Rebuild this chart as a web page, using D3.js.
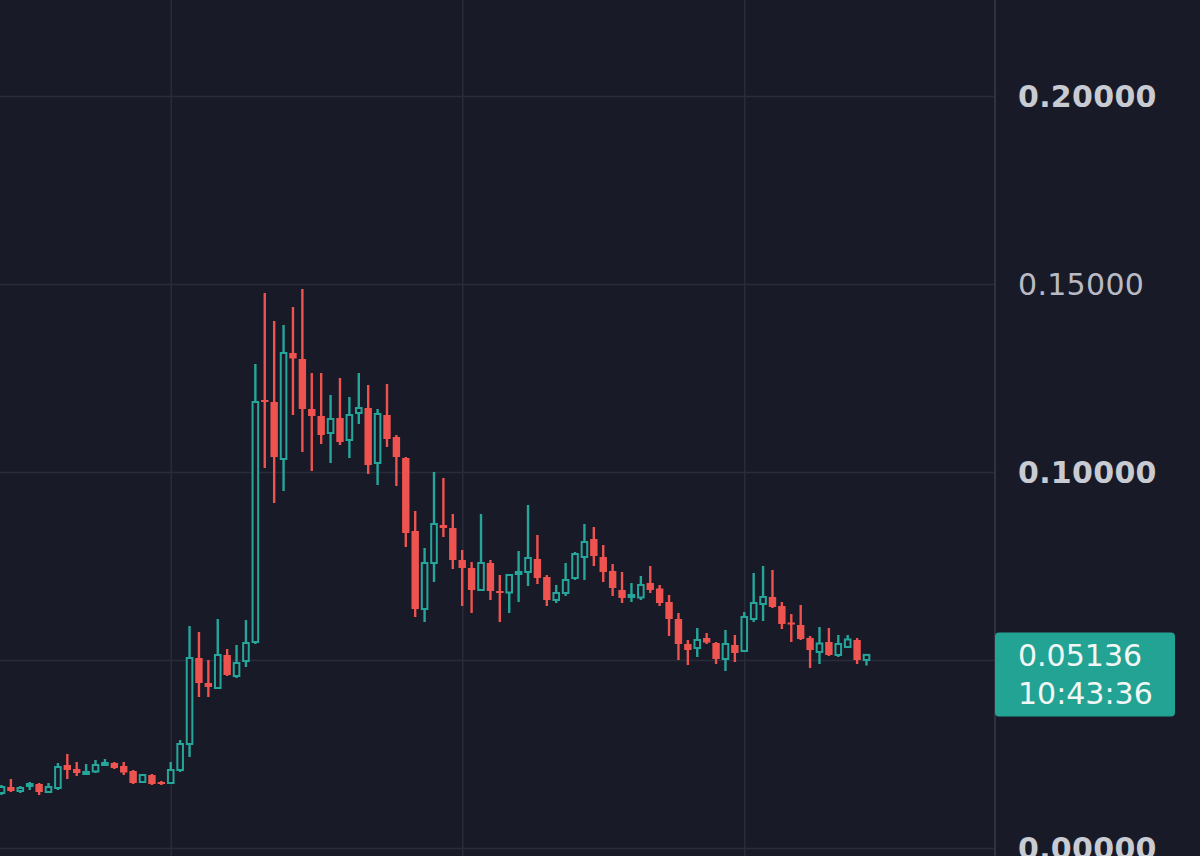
<!DOCTYPE html>
<html>
<head>
<meta charset="utf-8">
<script src="https://cdn.jsdelivr.net/npm/d3@7"></script>
<style>
html, body { margin: 0; padding: 0; background: #191a27; overflow: hidden; }
svg { display: block; }
</style>
</head>
<body>
<svg id="chart" width="1200" height="856"></svg>
<script>
// Daily candles, oldest first
var opens = [
	0.01463, 0.01622, 0.01516, 0.01649, 0.01702, 0.01489, 0.01596, 0.02207, 0.02101, 0.01995,
	0.02035, 0.02207, 0.02261, 0.02181, 0.02048, 0.01755, 0.01941, 0.01755, 0.01729, 0.02074,
	0.02766, 0.05053, 0.04388, 0.04255, 0.05133, 0.04574, 0.04973, 0.05479, 0.11915, 0.11862,
	0.10346, 0.13165, 0.13005, 0.11676, 0.11489, 0.11037, 0.11436, 0.10851, 0.11569, 0.11702,
	0.10239, 0.11516, 0.10931, 0.10372, 0.08431, 0.06356, 0.07580, 0.08590, 0.08511, 0.07660,
	0.07447, 0.06862, 0.07580, 0.06835, 0.06795, 0.07287, 0.07340, 0.07686, 0.07207, 0.06596,
	0.06782, 0.07181, 0.07739, 0.08218, 0.07739, 0.07367, 0.06862, 0.06676, 0.06662, 0.07048,
	0.06902, 0.06543, 0.06090, 0.05426, 0.05319, 0.05585, 0.05452, 0.05027, 0.05399, 0.05239,
	0.06090, 0.06489, 0.06676, 0.06436, 0.05997, 0.05931, 0.05585, 0.05213, 0.05479, 0.05133,
	0.05346, 0.05532, 0.05000
];
var highs = [
	0.01676, 0.01835, 0.01649, 0.01755, 0.01729, 0.01729, 0.02261, 0.02500, 0.02287, 0.02234,
	0.02340, 0.02367, 0.02287, 0.02287, 0.02074, 0.01968, 0.01968, 0.01782, 0.02287, 0.02872,
	0.05904, 0.05745, 0.05000, 0.06090, 0.05293, 0.05399, 0.06064, 0.12872, 0.14761, 0.14016,
	0.13910, 0.14388, 0.14867, 0.12633, 0.12633, 0.12048, 0.12500, 0.11995, 0.12633, 0.12314,
	0.11676, 0.12340, 0.10984, 0.10399, 0.08963, 0.07979, 0.10000, 0.09840, 0.08883, 0.07926,
	0.07606, 0.08883, 0.07660, 0.07261, 0.07287, 0.07899, 0.09122, 0.08324, 0.07261, 0.06995,
	0.07580, 0.07872, 0.08617, 0.08537, 0.08059, 0.07553, 0.07340, 0.07048, 0.07234, 0.07500,
	0.06995, 0.06729, 0.06250, 0.05532, 0.05851, 0.05718, 0.05479, 0.05798, 0.05665, 0.06277,
	0.07314, 0.07500, 0.07394, 0.06543, 0.06223, 0.06463, 0.05638, 0.05878, 0.05851, 0.05665,
	0.05665, 0.05585, 0.05160
];
var lows = [
	0.01410, 0.01489, 0.01463, 0.01543, 0.01410, 0.01463, 0.01543, 0.01835, 0.01915, 0.01941,
	0.01995, 0.02181, 0.02101, 0.01941, 0.01702, 0.01729, 0.01676, 0.01676, 0.01702, 0.02021,
	0.02420, 0.04016, 0.04016, 0.04229, 0.04574, 0.04521, 0.04814, 0.05426, 0.10106, 0.09176,
	0.09495, 0.11516, 0.10532, 0.10027, 0.10745, 0.10239, 0.10718, 0.10372, 0.11277, 0.09947,
	0.09654, 0.10665, 0.09628, 0.08005, 0.06144, 0.06011, 0.07074, 0.08271, 0.07420, 0.06436,
	0.06250, 0.06835, 0.06596, 0.06011, 0.06250, 0.06543, 0.06968, 0.07021, 0.06436, 0.06516,
	0.06702, 0.07128, 0.07128, 0.07500, 0.07074, 0.06702, 0.06516, 0.06543, 0.06596, 0.06782,
	0.06436, 0.05638, 0.05000, 0.04867, 0.05080, 0.05426, 0.04894, 0.04707, 0.04947, 0.05213,
	0.06011, 0.06037, 0.06383, 0.05824, 0.05479, 0.05532, 0.04787, 0.04894, 0.05106, 0.05080,
	0.05319, 0.04894, 0.04854
];
var closes = [
	0.01622, 0.01516, 0.01596, 0.01702, 0.01489, 0.01622, 0.02154, 0.02074, 0.01995, 0.02021,
	0.02207, 0.02261, 0.02128, 0.02008, 0.01729, 0.01941, 0.01702, 0.01702, 0.02074, 0.02766,
	0.05053, 0.04388, 0.04282, 0.05133, 0.04601, 0.04920, 0.05452, 0.11862, 0.11862, 0.10399,
	0.13165, 0.13019, 0.11676, 0.11489, 0.10984, 0.11410, 0.10798, 0.11516, 0.11702, 0.10186,
	0.11543, 0.10878, 0.10399, 0.08378, 0.06356, 0.07580, 0.08617, 0.08511, 0.07660, 0.07447,
	0.06862, 0.07580, 0.06835, 0.06782, 0.07261, 0.07340, 0.07713, 0.07181, 0.06596, 0.06782,
	0.07128, 0.07819, 0.08138, 0.07766, 0.07340, 0.06915, 0.06649, 0.06729, 0.06995, 0.06862,
	0.06516, 0.06090, 0.05426, 0.05266, 0.05532, 0.05465, 0.05027, 0.05426, 0.05186, 0.06144,
	0.06516, 0.06676, 0.06410, 0.05957, 0.05957, 0.05559, 0.05266, 0.05439, 0.05133, 0.05426,
	0.05545, 0.05000, 0.05136
];

// Candle index where each month starts (vertical grid)
var monthStarts = [18, 49, 79];

// Price axis
var priceTicks = [0, 0.05, 0.10, 0.15, 0.20];
var lastPrice = 0.05136;
var countdown = "10:43:36";

// Colors
var bg = "#191a27";
var upColor = "#26a69a";
var downColor = "#ef5350";
var gridColor = "#2a2c3a";

var width = 1200, height = 856;
var plotRight = 995;

var svg = d3.select("#chart");

svg.append("rect")
	.attr("width", width)
	.attr("height", height)
	.attr("fill", bg);

var x = d3.scaleLinear()
	.domain([0, opens.length - 1])
	.range([1.5, 866.5]);

var y = d3.scaleLinear()
	.domain([0, 0.2])
	.range([848, 96]);

// Horizontal grid
var gy = svg.append("g")
	.attr("class", "grid grid--y")
	.call(d3.axisRight(y).tickValues(priceTicks).tickSize(plotRight).tickFormat(""));
gy.select(".domain").remove();
gy.selectAll("line").attr("stroke", gridColor).attr("stroke-width", 1.5);

// Vertical grid
var gx = svg.append("g")
	.attr("class", "grid grid--x")
	.call(d3.axisBottom(x).tickValues(monthStarts).tickSize(height).tickFormat(""));
gx.select(".domain").remove();
gx.selectAll("line").attr("stroke", gridColor).attr("stroke-width", 1.5);

// Price scale separator
svg.append("line")
	.attr("x1", plotRight).attr("x2", plotRight)
	.attr("y1", 0).attr("y2", height)
	.attr("stroke", "#30323f")
	.attr("stroke-width", 2);

// Candles
var candles = d3.range(opens.length).map(function(i) {
	return { i: i, o: opens[i], h: highs[i], l: lows[i], c: closes[i], up: closes[i] >= opens[i] };
});

var g = svg.append("g").attr("class", "candles");

var candle = g.selectAll(".candle")
	.data(candles)
	.enter().append("g")
		.attr("class", "candle");

candle.append("line")
	.attr("x1", function(d) { return x(d.i); })
	.attr("x2", function(d) { return x(d.i); })
	.attr("y1", function(d) { return y(d.h); })
	.attr("y2", function(d) { return y(d.l); })
	.attr("stroke", function(d) { return d.up ? upColor : downColor; })
	.attr("stroke-width", 2.4);

candle.append("rect")
	.attr("x", function(d) { return x(d.i) - (d.up ? 2.8 : 3.7); })
	.attr("width", function(d) { return d.up ? 5.6 : 7.4; })
	.attr("y", function(d) { return y(Math.max(d.o, d.c)); })
	.attr("height", function(d) { return Math.max(2, Math.abs(y(d.o) - y(d.c))); })
	.attr("fill", function(d) { return d.up ? bg : downColor; })
	.attr("stroke", function(d) { return d.up ? upColor : "none"; })
	.attr("stroke-width", 2);

// Price labels
var ay = svg.append("g")
	.attr("class", "axis axis--y")
	.attr("transform", "translate(" + plotRight + ",0)")
	.call(d3.axisRight(y).tickValues(priceTicks).tickSize(0).tickPadding(23).tickFormat(d3.format(".5f")));
ay.select(".domain").remove();
// the label that sits under the last price badge is hidden
ay.selectAll(".tick")
	.filter(function(d) { return Math.abs(y(d) - y(lastPrice)) < 40; })
	.remove();
ay.selectAll("text")
	.attr("fill", function(d) { return d === 0.15 ? "#b9bbc4" : "#c9cbd2"; })
	.attr("dy", "0.36em")
	.style("font-family", "'DejaVu Sans', sans-serif")
	.style("font-size", "30px")
	.style("font-weight", function(d) { return d === 0.15 ? 400 : 700; })
	.style("letter-spacing", "0.3px");

// Last price badge
var badge = svg.append("g")
	.attr("class", "badge")
	.attr("transform", "translate(" + plotRight + "," + y(lastPrice) + ")");

badge.append("rect")
	.attr("x", 0)
	.attr("y", -22.5)
	.attr("width", 180)
	.attr("height", 84)
	.attr("rx", 4)
	.attr("fill", "#23a393");

badge.append("text")
	.attr("x", 23)
	.attr("y", 0)
	.attr("dy", "0.36em")
	.attr("fill", "#f2f7f6")
	.style("font-family", "'DejaVu Sans', sans-serif")
	.style("font-size", "30px")
	.text(d3.format(".5f")(lastPrice));

badge.append("text")
	.attr("x", 23)
	.attr("y", 38)
	.attr("dy", "0.36em")
	.attr("fill", "#f2f7f6")
	.style("font-family", "'DejaVu Sans', sans-serif")
	.style("font-size", "30px")
	.text(countdown);
</script>
</body>
</html>
